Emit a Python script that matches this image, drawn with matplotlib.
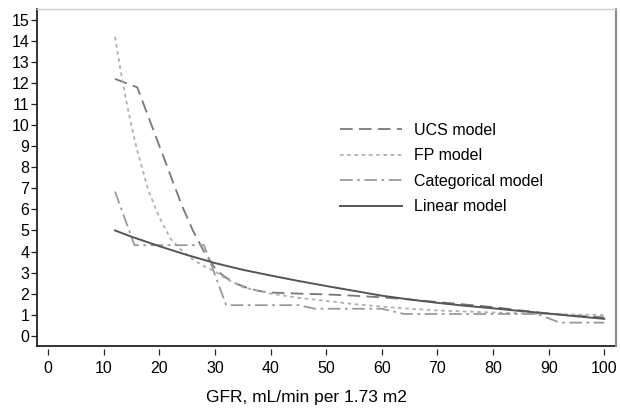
import matplotlib
matplotlib.use("Agg")
import matplotlib.pyplot as plt
from matplotlib.lines import Line2D

plt.rcParams["font.family"] = ["Liberation Sans", "DejaVu Sans"]

# values
ucs_gfr = [12, 16, 18, 20, 22, 24, 26, 28, 30, 31, 32, 34, 36, 38, 40, 45, 50, 55,
           60, 65, 70, 75, 80, 85, 90, 95, 100]
ucs_val = [12.2, 11.8, 10.4, 9.0, 7.6, 6.2, 5.0, 4.0, 3.2, 2.95, 2.75, 2.45, 2.25,
           2.12, 2.05, 2.0, 1.96, 1.9, 1.82, 1.72, 1.6, 1.48, 1.36, 1.2, 1.05, 0.95, 0.87]

fp_gfr = [12, 13, 14, 15, 16, 18, 20, 22, 24, 26, 28, 30, 32, 35, 40, 45, 50, 55,
          60, 65, 70, 80, 90, 100]
fp_val = [14.2, 12.6, 11.2, 9.9, 8.8, 6.9, 5.6, 4.6, 4.05, 3.62, 3.3, 3.05, 2.7,
          2.3, 2.0, 1.8, 1.65, 1.5, 1.38, 1.28, 1.2, 1.1, 1.03, 0.98]

cat_gfr = [12, 15.5, 28, 32, 45, 48, 60, 64, 88, 92, 100]
cat_val = [6.85, 4.3, 4.3, 1.45, 1.45, 1.28, 1.28, 1.03, 1.03, 0.62, 0.62]

lin_gfr = [12, 15, 20, 25, 30, 35, 40, 45, 50, 55, 60, 65, 70, 75, 80, 85, 90, 95, 100]
lin_val = [5.0, 4.7, 4.25, 3.83, 3.45, 3.13, 2.86, 2.6, 2.36, 2.13, 1.9, 1.72, 1.56,
           1.42, 1.3, 1.17, 1.05, 0.92, 0.8]

x_ticks = list(range(0, 101, 10))
y_ticks = list(range(0, 16))

fig = plt.figure(figsize=(6.2, 4.12), dpi=100)
ax = fig.add_axes([0.0597, 0.1602, 0.9338, 0.8178])

ax.plot(ucs_gfr, ucs_val, color="#787878", lw=1.3, dashes=(7, 3.5), label="UCS model")
ax.plot(fp_gfr, fp_val, color="#b0b0b0", lw=1.3, dashes=(2, 2), label="FP model")
ax.plot(cat_gfr, cat_val, color="#9a9a9a", lw=1.3, dashes=(7, 2.5, 1.5, 2.5),
        label="Categorical model")
ax.plot(lin_gfr, lin_val, color="#555555", lw=1.4, label="Linear model")

ax.set_xlim(-2.03, 102.1)
ax.set_ylim(-0.49, 15.52)
ax.set_xticks(x_ticks)
ax.set_yticks(y_ticks)
ax.tick_params(axis="both", labelsize=11.5, length=4, width=0.9, color="#222222")
ax.tick_params(axis="x", pad=4.5)
ax.tick_params(axis="y", pad=1.5)

# x ticks sit a little below the frame, so draw the bottom frame line by hand
ax.spines["bottom"].set_position(("outward", 2))
ax.spines["bottom"].set_visible(False)
ax.add_line(Line2D([0, 1], [0, 0], transform=ax.transAxes, color="#111111",
                   lw=1.2, clip_on=False))
ax.spines["left"].set_color("#111111")
ax.spines["left"].set_linewidth(1.2)
ax.spines["right"].set_color("#8a8a8a")
ax.spines["right"].set_linewidth(1.5)
ax.spines["top"].set_color("#cccccc")
ax.spines["top"].set_linewidth(1.0)

ax.legend(loc="upper left", bbox_to_anchor=(0.523, 0.662), frameon=False,
          fontsize=11.5, borderpad=0, borderaxespad=0, handlelength=3.9,
          handletextpad=0.75, labelspacing=0.65)

fig.text(0.494, 0.034, "GFR, mL/min per 1.73 m2", ha="center", va="center", fontsize=12.5)

fig.savefig("out.png", dpi=100)
